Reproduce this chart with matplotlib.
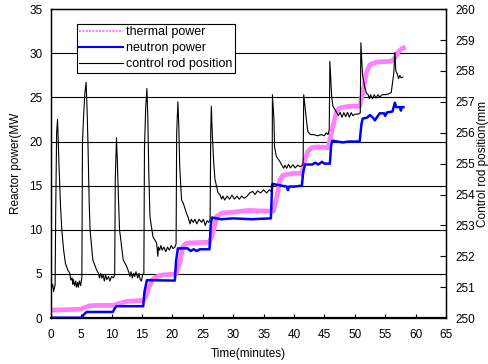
import matplotlib
matplotlib.use("Agg")
import matplotlib.pyplot as plt

plt.rcParams['font.family'] = ['Liberation Sans', 'DejaVu Sans']

# thermal power (MW)
thermal_t = [0, 2, 4.8, 5.5, 6.4, 8, 10.2, 11.0, 12.5, 15.2, 15.6, 16.0, 16.6, 17.4, 18.5,
             20.6, 21.2, 21.7, 22.3, 26.1, 26.7, 27.3, 28.1, 30, 32.4, 36.6, 37.2, 37.7,
             38.2, 40, 41.3, 41.8, 42.3, 42.9, 44, 45.6, 46.4, 47.0, 47.5, 49, 50.8, 51.3,
             51.9, 52.5, 53.6, 56.1, 56.6, 57.1, 57.7, 58.0]
thermal_mw = [0.9, 0.95, 1.0, 1.2, 1.4, 1.45, 1.45, 1.6, 1.9, 2.0, 2.4, 3.2, 4.3, 4.7, 4.9,
              5.0, 6.2, 8.1, 8.5, 8.6, 9.7, 11.5, 11.9, 12.0, 12.2, 12.1, 13.8, 15.7,
              16.2, 16.4, 16.4, 18.0, 18.9, 19.3, 19.4, 19.3, 21.7, 23.4, 23.8, 24.0, 24.0, 25.5,
              27.8, 28.7, 29.0, 29.1, 29.5, 30.1, 30.5, 30.6]

# neutron power (MW)
neutron_t = [0, 5.1, 5.4, 5.9, 10.2, 10.5, 10.8, 15.2, 15.4, 15.8, 20.4, 20.6, 20.9, 22.5,
             23.0, 23.5, 24.0, 24.5, 26.1, 26.3, 26.5, 28.0, 30.0, 33.0, 36.2, 36.4, 36.5,
             38.0, 38.8, 39.0, 39.2, 40.0, 41.3, 41.5, 41.8, 43.0, 43.5, 44.0, 44.6, 45.0,
             45.9, 46.1, 46.3, 48.0, 49.0, 50.8, 51.1, 51.3, 52.0, 52.5, 53.0, 53.3, 53.6,
             54.1, 54.8, 55.0, 55.3, 56.2, 56.6, 56.8, 57.4, 57.6, 57.7, 58.0]
neutron_mw = [0.05, 0.05, 0.4, 0.7, 0.7, 1.1, 1.35, 1.35, 3.0, 4.3, 4.25, 6.5, 7.9, 7.9,
              7.6, 7.8, 7.6, 7.8, 7.8, 10.5, 11.4, 11.2, 11.3, 11.2, 11.3, 15.1, 15.2,
              15.0, 14.9, 14.5, 14.9, 14.9, 15.0, 16.5, 17.4, 17.4, 17.6, 17.4, 17.7, 17.5,
              17.5, 19.5, 20.1, 19.9, 20.0, 20.0, 22.0, 22.6, 22.7, 23.0, 22.7, 22.4, 22.7,
              23.2, 23.2, 22.9, 23.3, 23.4, 24.4, 23.9, 23.9, 23.5, 23.9, 23.9]

# control rod position (mm)
rod_t = [0, 0.15, 0.3, 0.45, 0.6, 0.7, 0.8, 0.95, 1.1, 1.2, 1.35, 1.6, 1.8, 2.1, 2.4, 2.8,
         3.1, 3.3, 3.5, 3.6, 3.7, 3.9, 4.1, 4.2, 4.4, 4.5, 4.7, 4.9, 5.0,
         5.1, 5.2, 5.4, 5.6, 5.8, 5.95, 6.1, 6.3, 6.45, 6.9, 7.5, 7.8, 8.0, 8.2, 8.4, 8.6,
         8.8, 9.0, 9.2, 9.5, 9.7, 10.0, 10.3,
         10.5, 10.6, 10.8, 10.95, 11.1, 11.3, 11.9, 12.5, 12.8, 13.0, 13.2, 13.4, 13.6,
         13.8, 14.0, 14.3, 14.5, 14.7, 14.9, 15.1,
         15.3, 15.4, 15.6, 15.8, 15.95, 16.1, 16.3, 16.8, 17.4, 17.6, 17.7, 17.9, 18.1,
         18.3, 18.6, 18.9, 19.2, 19.5, 19.8, 20.1, 20.4,
         20.6, 20.7, 20.9, 21.05, 21.2, 21.5, 21.8, 22.3, 22.6, 22.9, 23.1, 23.4, 23.7,
         24.0, 24.4, 24.8, 25.1, 25.4, 25.7, 26.0,
         26.2, 26.3, 26.4, 26.55, 26.8, 27.0, 27.5, 27.8, 28.1, 28.3, 28.6, 29.0, 29.4,
         29.8, 30.2, 30.6, 31.0, 31.4, 31.8, 32.3, 32.7, 33.2, 33.6, 34.0, 34.5, 35.0,
         35.5, 35.9, 36.3,
         36.4, 36.45, 36.7, 36.8, 37.1, 37.7, 38.0, 38.3, 38.5, 38.8, 39.1, 39.4, 39.8,
         40.2, 40.6, 41.0, 41.4,
         41.5, 41.6, 41.9, 42.1, 42.3, 42.7, 43.2, 43.9, 44.5, 45.0, 45.3, 45.6, 45.8,
         45.9, 46.2, 46.4, 47.0, 47.3, 47.6, 47.9, 48.2, 48.5, 48.8, 49.1, 49.4, 49.7,
         50.0, 50.4, 50.8,
         50.9, 51.0, 51.2, 51.3, 51.6, 51.9, 52.2, 52.4, 52.6, 52.9, 53.2, 53.5, 53.8,
         54.1, 54.5, 55.0, 55.5, 56.0, 56.1, 56.4, 56.6, 56.75, 57.0, 57.2, 57.4, 57.6, 57.9]
rod_mm = [251.14, 251.0, 251.1, 250.86, 251.0, 251.05, 253.5, 256.0, 256.43, 255.8, 254.9,
          253.6, 252.86, 252.2, 251.77, 251.55, 251.46, 251.23, 251.3, 251.1, 251.25,
          251.05, 251.2, 251.0, 251.15, 251.0, 251.2, 251.05, 251.2,
          251.3, 255.7, 256.6, 257.3, 257.63, 256.8, 255.7, 253.8, 252.86, 251.89, 251.57,
          251.46, 251.3, 251.45, 251.3, 251.4, 251.2, 251.4, 251.25, 251.35, 251.2, 251.35,
          251.3,
          251.4, 254.5, 255.83, 255.0, 254.0, 252.86, 251.89, 251.66, 251.5, 251.35, 251.5,
          251.3, 251.45, 251.35, 251.5, 251.3, 251.45, 251.25, 251.2, 251.4,
          251.45, 255.5, 256.8, 257.43, 256.5, 254.8, 253.29, 252.63, 252.43, 252.0, 252.3,
          252.2, 252.35, 252.2, 252.3, 252.15, 252.3, 252.2, 252.35, 252.25, 252.3,
          252.4, 256.0, 257.0, 256.2, 254.9, 253.83, 253.71, 253.4, 253.25, 253.05, 253.2,
          253.1, 253.2, 253.05, 253.2, 253.1, 253.2, 253.0, 253.15, 253.1,
          253.2, 256.0, 256.86, 256.0, 255.0, 254.49, 254.06, 254.0, 253.85, 253.95, 253.82,
          253.95, 253.85, 253.98, 253.85, 253.95, 253.85, 253.95, 253.88, 253.95, 254.05,
          254.1, 254.0, 254.12, 254.05, 254.15, 254.05, 254.15, 254.1,
          254.2, 257.23, 256.43, 255.54, 255.23, 255.06, 254.95, 254.85, 254.95, 254.85,
          254.98, 254.86, 254.96, 254.86, 254.95, 254.9, 254.95,
          255.0, 257.23, 256.66, 256.31, 256.03, 255.94, 255.94, 255.9, 255.94, 255.9, 256.0,
          255.94, 256.1,
          258.31, 257.17, 256.86, 256.66, 256.55, 256.66, 256.5, 256.65, 256.52, 256.66,
          256.5, 256.65, 256.55, 256.6, 256.6, 256.62,
          256.65, 258.91, 258.14, 257.83, 257.51, 257.29, 257.23, 257.1, 257.23, 257.1,
          257.23, 257.12, 257.23, 257.15, 257.23, 257.23, 257.25, 257.3, 257.46, 257.9,
          258.6, 258.0, 257.9, 257.75, 257.85, 257.78, 257.8]

fig = plt.figure(figsize=(4.89, 3.64), dpi=100)
ax = fig.add_axes([0.104, 0.126, 0.808, 0.849])

l1, = ax.plot(thermal_t, thermal_mw, color='#ff80ff', lw=3.4, label='thermal power', zorder=2)
l2, = ax.plot(neutron_t, neutron_mw, color='#0000ff', lw=1.8, label='neutron power', zorder=3)
ax.set_xlim(0, 65)
ax.set_ylim(0, 35)
ax.set_xticks(range(0, 70, 5))
ax.set_yticks(range(0, 40, 5))
for y in range(5, 35, 5):
    ax.axhline(y, color='black', lw=0.8, zorder=1)
ax.tick_params(direction='in', length=3, labelsize=8.5, width=0.8)
ax.tick_params(axis='x', pad=8)
ax.tick_params(axis='y', length=0, pad=6)
ax.set_xlabel('Time(minutes)', fontsize=8.5, labelpad=5)
ax.set_ylabel('Reactor power(MW', fontsize=8.5, labelpad=5)
for s in ax.spines.values():
    s.set_linewidth(1.0)
ax.spines['bottom'].set_linewidth(1.6)

ax2 = ax.twinx()
l3, = ax2.plot(rod_t, rod_mm, color='black', lw=0.8, label='control rod position')
ax2.set_ylim(250, 260)
ax2.set_yticks(range(250, 261))
ax2.tick_params(direction='in', length=4, labelsize=8.5, width=0.8, pad=7)
ax2.set_ylabel('Control rod position(mm', fontsize=8.5, labelpad=1)

leg = ax2.legend(handles=[l1, l2, l3], loc='upper left', bbox_to_anchor=(0.066, 0.952),
                 fontsize=9, frameon=True, fancybox=False, framealpha=1,
                 edgecolor='black', borderpad=0.2, labelspacing=0.32,
                 handlelength=3.5, handletextpad=0.2, borderaxespad=0)
leg.get_frame().set_linewidth(0.8)
leg.legend_handles[0].set_linewidth(1.5)
leg.legend_handles[0].set_linestyle((0, (1, 0.6)))
leg.legend_handles[1].set_linewidth(1.5)

fig.savefig('out.png', dpi=100)
